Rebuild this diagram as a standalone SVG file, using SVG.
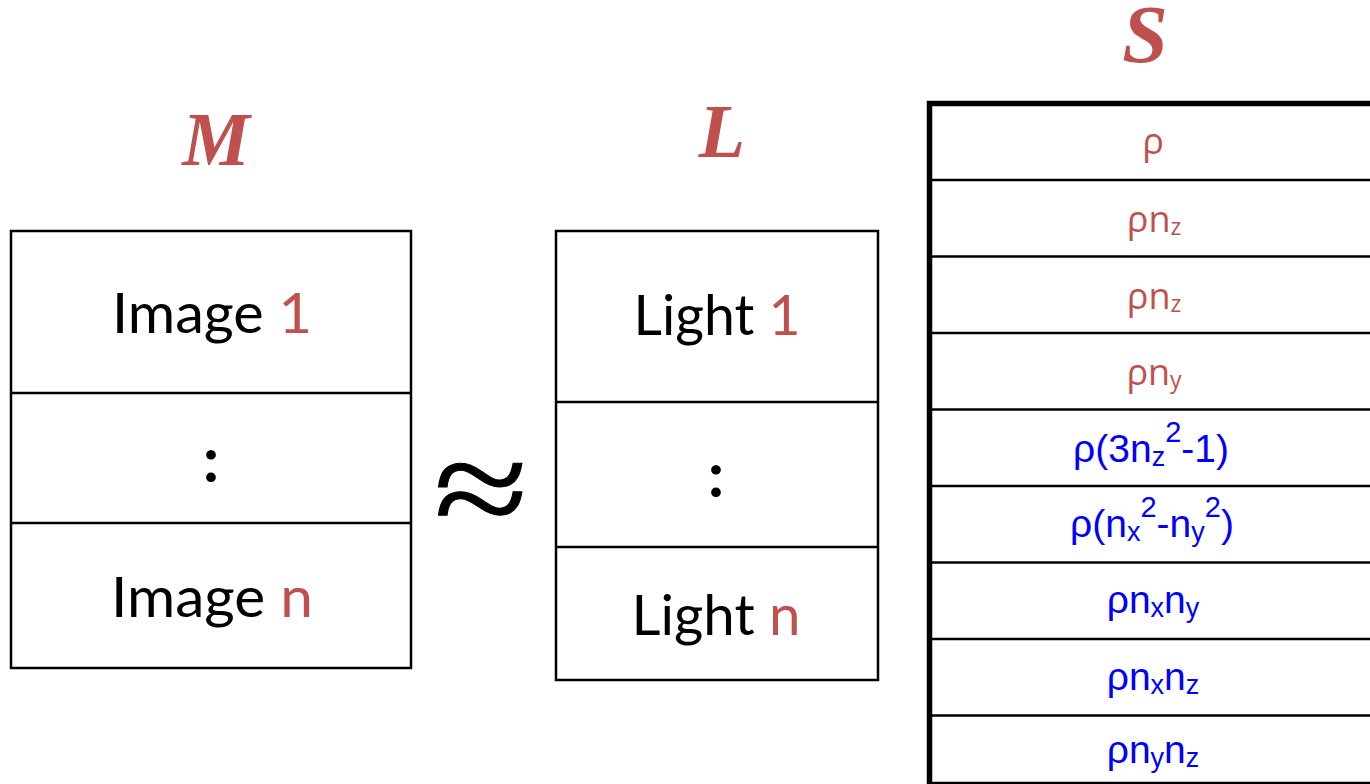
<svg xmlns="http://www.w3.org/2000/svg" width="1370" height="784" viewBox="0 0 1370 784">
  <style>
    .bg { fill: #ffffff; }
    .box { fill: #ffffff; stroke: #000000; stroke-width: 2.5; }
    .rule { stroke: #000000; stroke-width: 2.5; }
    .thick { stroke: #000000; stroke-width: 5.5; fill: none; }
    .title { font-family: "Liberation Serif", "Times New Roman", serif; font-weight: bold; font-style: italic; font-size: 76px; fill: #C0504D; text-anchor: middle; }
    .cell { font-family: Lato, "Open Sans", sans-serif; font-size: 56px; fill: #000000; text-anchor: middle; }
    .dots { font-family: Lato, "Open Sans", sans-serif; font-size: 64px; font-weight: bold; fill: #000000; text-anchor: middle; }
    .red { fill: #C0504D; }
    .rrow { font-family: "Open Sans", "Liberation Sans", sans-serif; font-size: 36px; fill: #C0504D; text-anchor: middle; }
    .brow { font-family: "Liberation Sans", Arial, sans-serif; font-size: 39px; fill: #0000FF; text-anchor: middle; }
    .rsub { font-size: 23px; }
    .bsub { font-size: 27px; }
    .bsup { font-size: 29px; }
    .approx { font-family: "Liberation Serif", "Times New Roman", serif; font-size: 172px; fill: #000000; stroke: #000000; stroke-width: 1.2; text-anchor: middle; }
  </style>

  <rect class="bg" x="0" y="0" width="1370" height="784"/>

  <!-- measurement matrix M -->
  <g id="node-M">
    <text class="title" x="216" y="165">M</text>
    <rect class="box" x="11" y="231" width="400" height="437"/>
    <line class="rule" x1="11" y1="393" x2="411" y2="393"/>
    <line class="rule" x1="11" y1="523" x2="411" y2="523"/>
    <text class="cell" x="212" y="333" textLength="200" lengthAdjust="spacingAndGlyphs">Image <tspan class="red">1</tspan></text>
    <text class="dots" x="211" y="482">:</text>
    <text class="cell" x="212" y="617" textLength="202" lengthAdjust="spacingAndGlyphs">Image <tspan class="red">n</tspan></text>
  </g>

  <!-- approximately-equal sign -->
  <g id="node-approx">
    <text class="approx" transform="translate(481,536) scale(1,0.82)" x="0" y="0">≈</text>
  </g>

  <!-- lighting matrix L -->
  <g id="node-L">
    <text class="title" x="722" y="157">L</text>
    <rect class="box" x="556" y="231" width="322" height="449"/>
    <line class="rule" x1="556" y1="402" x2="878" y2="402"/>
    <line class="rule" x1="556" y1="547" x2="878" y2="547"/>
    <text class="cell" x="717" y="335" textLength="167" lengthAdjust="spacingAndGlyphs">Light <tspan class="red">1</tspan></text>
    <text class="dots" x="716" y="497">:</text>
    <text class="cell" x="716" y="635" textLength="169" lengthAdjust="spacingAndGlyphs">Light <tspan class="red">n</tspan></text>
  </g>

  <!-- surface matrix S -->
  <g id="node-S">
    <text class="title" style="font-size:82px" x="1145" y="62">S</text>
    <path class="thick" d="M 929.5 784 L 929.5 103.5 L 1372 103.5"/>
    <g>
      <line class="rule" x1="929" y1="180" x2="1370" y2="180"/>
      <line class="rule" x1="929" y1="256.5" x2="1370" y2="256.5"/>
      <line class="rule" x1="929" y1="333" x2="1370" y2="333"/>
      <line class="rule" x1="929" y1="409.5" x2="1370" y2="409.5"/>
      <line class="rule" x1="929" y1="486" x2="1370" y2="486"/>
      <line class="rule" x1="929" y1="562.5" x2="1370" y2="562.5"/>
      <line class="rule" x1="929" y1="639" x2="1370" y2="639"/>
      <line class="rule" x1="929" y1="715.5" x2="1370" y2="715.5"/>
      <line class="rule" x1="929" y1="783" x2="1370" y2="783"/>
    </g>
    <text class="rrow" x="1153" y="154">ρ</text>
    <text class="rrow" x="1154" y="232">ρn<tspan class="rsub" dy="3">z</tspan></text>
    <text class="rrow" x="1154" y="309">ρn<tspan class="rsub" dy="3">z</tspan></text>
    <text class="rrow" x="1154" y="385">ρn<tspan class="rsub" dy="3">y</tspan></text>
    <text class="brow" x="1151" y="461.5">ρ(3n<tspan class="bsub" dy="4">z</tspan><tspan class="bsup" dy="-24">2</tspan><tspan dy="20">-1)</tspan></text>
    <text class="brow" x="1152" y="537">ρ(n<tspan class="bsub" dy="4">x</tspan><tspan class="bsup" dy="-24">2</tspan><tspan dy="20">-n</tspan><tspan class="bsub" dy="4">y</tspan><tspan class="bsup" dy="-24">2</tspan><tspan dy="20">)</tspan></text>
    <text class="brow" x="1153" y="613">ρn<tspan class="bsub" dy="4">x</tspan><tspan dy="-4">n</tspan><tspan class="bsub" dy="4">y</tspan></text>
    <text class="brow" x="1153" y="689.5">ρn<tspan class="bsub" dy="4">x</tspan><tspan dy="-4">n</tspan><tspan class="bsub" dy="4">z</tspan></text>
    <text class="brow" x="1153" y="763">ρn<tspan class="bsub" dy="4">y</tspan><tspan dy="-4">n</tspan><tspan class="bsub" dy="4">z</tspan></text>
  </g>
</svg>
